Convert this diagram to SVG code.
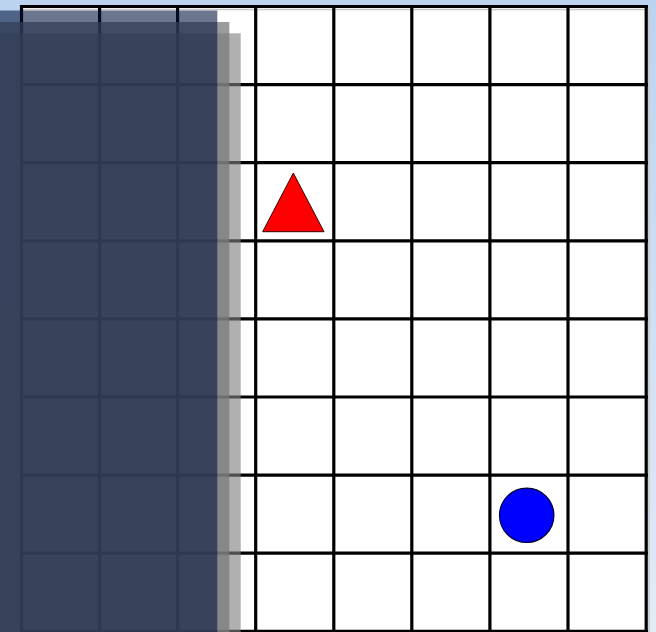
<svg xmlns="http://www.w3.org/2000/svg" width="656" height="632" viewBox="0 0 656 632">
  <defs>
    <linearGradient id="bg" x1="0" y1="0" x2="0" y2="1">
      <stop offset="0" stop-color="#bcd3f0"/>
      <stop offset="1" stop-color="#e3ebf6"/>
    </linearGradient>
  </defs>
  <style>
    .grid line { stroke: #000; stroke-width: 3.2; }
    .shade line { stroke: #c8c8c8; stroke-width: 1.5; }
  </style>
  <rect x="0" y="0" width="656" height="632" fill="url(#bg)"/>
  <g id="board">
    <rect x="21.5" y="6.5" width="624.5" height="640" fill="#fff"/>
    <g class="shade">
      <line x1="23" y1="9.5" x2="645" y2="9.5"/>
      <line x1="649" y1="9" x2="649" y2="632"/>
    </g>
    <g class="grid">
      <line x1="21.5" y1="5" x2="21.5" y2="632"/>
      <line x1="99.6" y1="5" x2="99.6" y2="632"/>
      <line x1="177.6" y1="5" x2="177.6" y2="632"/>
      <line x1="255.7" y1="5" x2="255.7" y2="632"/>
      <line x1="333.8" y1="5" x2="333.8" y2="632"/>
      <line x1="411.8" y1="5" x2="411.8" y2="632"/>
      <line x1="489.9" y1="5" x2="489.9" y2="632"/>
      <line x1="568" y1="5" x2="568" y2="632"/>
      <line x1="646.2" y1="5" x2="646.2" y2="632"/>
      <line x1="20" y1="6.5" x2="648" y2="6.5"/>
      <line x1="20" y1="84.6" x2="648" y2="84.6"/>
      <line x1="20" y1="162.7" x2="648" y2="162.7"/>
      <line x1="20" y1="240.8" x2="648" y2="240.8"/>
      <line x1="20" y1="318.9" x2="648" y2="318.9"/>
      <line x1="20" y1="397" x2="648" y2="397"/>
      <line x1="20" y1="475.1" x2="648" y2="475.1"/>
      <line x1="20" y1="553.2" x2="648" y2="553.2"/>
      <line x1="20" y1="631.3" x2="648" y2="631.3"/>
    </g>
  </g>
  <g id="triangle">
    <polygon points="293.3,173 262.7,231.7 324,231.7" fill="#ff0000" stroke="#3a0000" stroke-width="1"/>
  </g>
  <g id="circle">
    <circle cx="526.7" cy="515.3" r="27.2" fill="#0000ff" stroke="#000030" stroke-width="1.2"/>
  </g>
  <g id="panels">
    <rect x="-10" y="33.3" width="250.7" height="610" fill="#808080" fill-opacity="0.62"/>
    <rect x="-10" y="22" width="239.3" height="620" fill="#7a7a7a" fill-opacity="0.75"/>
    <rect x="-10" y="10.5" width="227.3" height="630" fill="#00133c" fill-opacity="0.58"/>
  </g>
</svg>
